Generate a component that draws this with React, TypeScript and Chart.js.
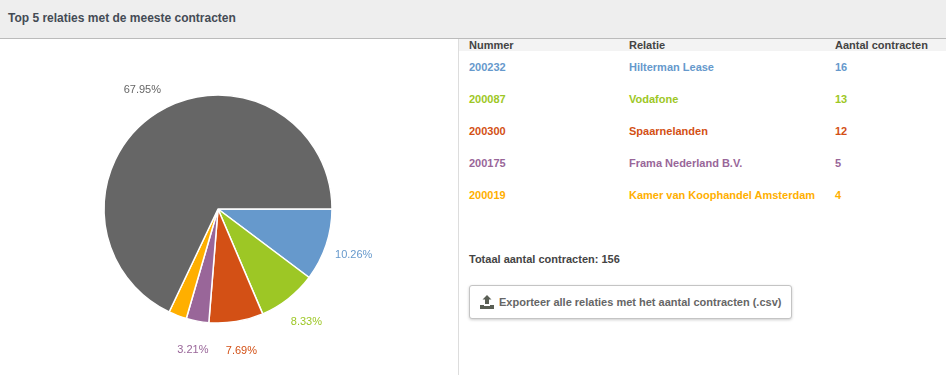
import React, { useEffect, useRef } from "react";
import { Chart, registerables } from "chart.js";

Chart.register(...registerables);

const title = "Top 5 relaties met de meeste contracten";
const columnHeaders = ["Nummer", "Relatie", "Aantal contracten"];
const numbers = ["200232", "200087", "200300", "200175", "200019"];
const relations = ["Hilterman Lease", "Vodafone", "Spaarnelanden", "Frama Nederland B.V.", "Kamer van Koophandel Amsterdam"];
const contracts = [16, 13, 12, 5, 4];
const otherContracts = [106];
const rowColors = ["#6699CC", "#9DC725", "#D35015", "#996699", "#FFAF00"];
const otherColor = "#666666";
const hiddenLabelIndexes = [4];
const totalLabel = "Totaal aantal contracten: 156";
const buttonLabel = "Exporteer alle relaties met het aantal contracten (.csv)";

const FONT = '"Liberation Sans", Arial, sans-serif';
const ROW_TOPS = [60, 92, 124, 156, 188];
const COL_LEFTS = [469, 629, 835];

const outsideLabels = {
  id: "outsideLabels",
  afterDatasetsDraw(chart: any) {
    const { ctx } = chart;
    const meta = chart.getDatasetMeta(0);
    const dataset = chart.data.datasets[0];
    const total = dataset.data.reduce((a: number, b: number) => a + b, 0);
    ctx.save();
    ctx.font = `11px ${FONT}`;
    ctx.textAlign = "center";
    ctx.textBaseline = "middle";
    meta.data.forEach((arc: any, i: number) => {
      if (hiddenLabelIndexes.includes(i)) return;
      const mid = (arc.startAngle + arc.endAngle) / 2;
      const dist = arc.outerRadius + 28.5;
      ctx.fillStyle = dataset.backgroundColor[i];
      ctx.fillText(
        `${((dataset.data[i] / total) * 100).toFixed(2)}%`,
        arc.x + Math.cos(mid) * dist + 0.5,
        arc.y + Math.sin(mid) * dist + 1
      );
    });
    ctx.restore();
  },
};

const cell = (left: number, top: number, color: string, text: React.ReactNode) => (
  <div
    style={{
      position: "absolute",
      left,
      top,
      height: 14,
      lineHeight: "14px",
      color,
      whiteSpace: "nowrap",
    }}
  >
    {text}
  </div>
);

export default function App() {
  const ref = useRef<HTMLCanvasElement>(null);

  useEffect(() => {
    document.body.style.margin = "0";
    const chart = new Chart(ref.current!, {
      type: "pie",
      data: {
        labels: [...relations, "Overig"],
        datasets: [
          {
            data: [...contracts, ...otherContracts],
            backgroundColor: [...rowColors, otherColor],
            borderColor: "#ffffff",
            borderWidth: 1.5,
          },
        ],
      },
      options: {
        responsive: false,
        animation: false,
        rotation: 90,
        radius: 114,
        layout: { padding: { right: 22, top: 4 } },
        plugins: { legend: { display: false }, tooltip: { enabled: false } },
      },
      plugins: [outsideLabels],
    } as any);
    return () => chart.destroy();
  }, []);

  return (
    <div
      style={{
        position: "relative",
        width: 946,
        height: 375,
        overflow: "hidden",
        background: "#fff",
        fontFamily: FONT,
        fontSize: 11,
        fontWeight: 700,
      }}
    >
      <div
        style={{
          position: "absolute",
          left: 0,
          top: 0,
          width: 946,
          height: 38,
          background: "#EEEEEE",
          borderBottom: "1px solid #BBBBBB",
        }}
      >
        <div style={{ position: "absolute", left: 8, top: 10, lineHeight: "16px", fontSize: 12, color: "#444B55" }}>{title}</div>
      </div>
      <div style={{ position: "absolute", left: 458, top: 39, width: 1, height: 336, background: "#DDDDDD" }} />
      <div style={{ position: "absolute", left: 459, top: 39, width: 487, height: 12, background: "#F3F3F3" }} />
      <canvas ref={ref} width={458} height={336} style={{ position: "absolute", left: 0, top: 39, display: "block" }} />
      {columnHeaders.map((h, i) => (
        <React.Fragment key={h}>{cell(COL_LEFTS[i], 38, "#444444", h)}</React.Fragment>
      ))}
      {numbers.map((n, i) => (
        <React.Fragment key={n}>
          {cell(COL_LEFTS[0], ROW_TOPS[i], rowColors[i], n)}
          {cell(COL_LEFTS[1], ROW_TOPS[i], rowColors[i], relations[i])}
          {cell(COL_LEFTS[2], ROW_TOPS[i], rowColors[i], contracts[i])}
        </React.Fragment>
      ))}
      {cell(469, 252, "#444444", totalLabel)}
      <div
        style={{
          position: "absolute",
          left: 469,
          top: 285,
          width: 321,
          height: 32,
          border: "1px solid #C4C4C4",
          borderRadius: 3,
          boxShadow: "0 1px 3px rgba(0,0,0,0.2)",
          background: "#fff",
        }}
      >
        <svg width="14" height="14" viewBox="0 0 14 14" style={{ position: "absolute", left: 10, top: 9 }}>
          <path d="M7 0 L11.5 4.5 H9 V9 H5 V4.5 H2.5 Z" fill="#5A5F55" />
          <path d="M0 10 H4 V11 H10 V10 H14 V14 H0 Z" fill="#5A5F55" />
        </svg>
        <div style={{ position: "absolute", left: 29, top: 9, lineHeight: "14px", color: "#666666", whiteSpace: "nowrap" }}>
          {buttonLabel}
        </div>
      </div>
    </div>
  );
}
